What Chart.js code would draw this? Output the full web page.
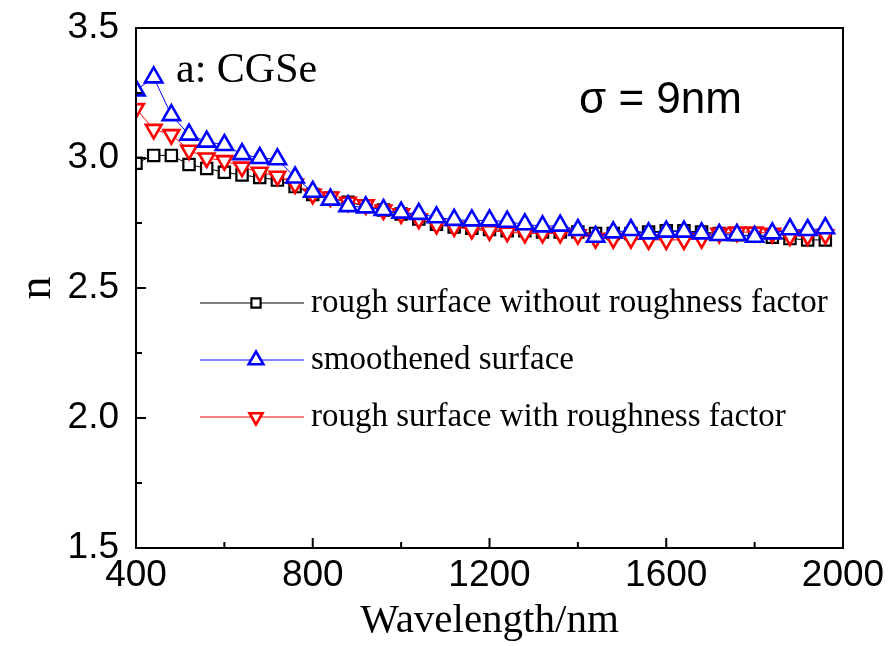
<!DOCTYPE html>
<html><head><meta charset="utf-8">
<script src="https://cdn.jsdelivr.net/npm/chart.js@4/dist/chart.umd.min.js"></script>
<style>html,body{margin:0;padding:0;background:#fff;}#wrap{position:relative;width:889px;height:646px;}</style>
</head><body><div id="wrap"><canvas id="c" width="889" height="646"></canvas></div>
<script>
// ---- data ----
const wavelengths = [400,440,480,520,560,600,640,680,720,760,800,840,880,920,960,1000,1040,1080,1120,1160,1200,1240,1280,1320,1360,1400,1440,1480,1520,1560,1600,1640,1680,1720,1760,1800,1840,1880,1920,1960];
const roughNoFactor = [2.98,3.01,3.01,2.975,2.96,2.945,2.935,2.925,2.915,2.89,2.86,2.845,2.83,2.815,2.80,2.785,2.765,2.745,2.735,2.73,2.725,2.72,2.72,2.715,2.715,2.715,2.71,2.71,2.71,2.715,2.72,2.72,2.715,2.71,2.705,2.70,2.695,2.69,2.685,2.685];
const smoothened = [3.26,3.31,3.165,3.09,3.063,3.05,3.015,3.0,2.995,2.925,2.87,2.84,2.815,2.81,2.80,2.79,2.785,2.772,2.762,2.76,2.76,2.755,2.745,2.737,2.74,2.723,2.697,2.714,2.723,2.71,2.717,2.717,2.71,2.704,2.704,2.697,2.71,2.726,2.723,2.73];
const roughWithFactor = [3.19,3.11,3.09,3.03,3.0,2.99,2.965,2.945,2.93,2.90,2.86,2.85,2.83,2.82,2.80,2.785,2.765,2.745,2.735,2.725,2.72,2.715,2.71,2.71,2.71,2.705,2.69,2.69,2.69,2.685,2.685,2.685,2.69,2.71,2.715,2.715,2.71,2.70,2.70,2.705];
const seriesNames = ['rough surface without roughness factor','smoothened surface','rough surface with roughness factor'];
const xTicks = [400,800,1200,1600,2000];
const xMinorTicks = [600,1000,1400,1800];
const yTicks = [1.5,2.0,2.5,3.0,3.5];
const yMinorTicks = [1.75,2.25,2.75,3.25];
const panelLabel = 'a: CGSe';
const sigmaLabel = 'σ = 9nm';

const toXY = arr => arr.map((v,i)=>({x:wavelengths[i], y:v}));
const styles = [
  {color:'#000000', pointStyle:'rect', rotation:0, radius:8, bw:2.2},
  {color:'#0000ff', pointStyle:'triangle', rotation:0, radius:10, bw:2.6},
  {color:'#ff0000', pointStyle:'triangle', rotation:180, radius:9, bw:2.6}
];
const seriesData = [roughNoFactor, smoothened, roughWithFactor];
const orders = [3,1,2];

const datasets = seriesData.map((d,i)=>({
  label: seriesNames[i],
  data: toXY(d),
  borderColor: styles[i].color,
  backgroundColor: '#ffffff',
  borderWidth: 1,
  pointStyle: styles[i].pointStyle,
  rotation: styles[i].rotation,
  pointRadius: styles[i].radius,
  pointBorderWidth: styles[i].bw,
  pointBorderColor: styles[i].color,
  pointBackgroundColor: '#ffffff',
  tension: 0,
  order: orders[i]
}));

const frame = {
  id:'frame',
  afterDraw(chart){
    const ctx = chart.ctx, a = chart.chartArea;
    const xs = chart.scales.x, ys = chart.scales.y;
    ctx.save();
    ctx.strokeStyle = '#000'; ctx.lineWidth = 2;
    ctx.strokeRect(a.left, a.top, a.right-a.left, a.bottom-a.top);
    ctx.beginPath();
    xTicks.forEach(v=>{const p=xs.getPixelForValue(v); ctx.moveTo(p,a.bottom); ctx.lineTo(p,a.bottom-10);});
    xMinorTicks.forEach(v=>{const p=xs.getPixelForValue(v); ctx.moveTo(p,a.bottom); ctx.lineTo(p,a.bottom-6);});
    yTicks.forEach(v=>{const p=ys.getPixelForValue(v); ctx.moveTo(a.left,p); ctx.lineTo(a.left+10,p);});
    yMinorTicks.forEach(v=>{const p=ys.getPixelForValue(v); ctx.moveTo(a.left,p); ctx.lineTo(a.left+6,p);});
    ctx.stroke();
    // legend
    const rowsY = [303,360,417];
    ctx.font = '33px "Liberation Serif", "Times New Roman", serif';
    ctx.textBaseline = 'middle';
    styles.forEach((s,i)=>{
      const y = rowsY[i];
      ctx.strokeStyle = s.color; ctx.lineWidth = 1;
      ctx.beginPath(); ctx.moveTo(200,y); ctx.lineTo(304,y); ctx.stroke();
      ctx.strokeStyle = s.color; ctx.fillStyle = '#fff'; ctx.lineWidth = s.bw;
      Chart.helpers.drawPoint(ctx, {pointStyle:s.pointStyle, rotation:s.rotation, radius:s.radius-1.5, borderWidth:s.bw}, 256, y);
      ctx.fillStyle = '#000';
      ctx.fillText(seriesNames[i], 311, y);
    });
    ctx.fillStyle = '#000';
    ctx.textBaseline = 'alphabetic';
    ctx.font = '42px "Liberation Serif", "Times New Roman", serif';
    ctx.fillText(panelLabel, 176, 82);
    ctx.font = '44px "Liberation Sans", Arial, sans-serif';
    ctx.fillText(sigmaLabel, 579, 113);
    ctx.restore();
  }
};

const chart = new Chart(document.getElementById('c'), {
  type:'line',
  data:{datasets},
  options:{
    responsive:false, animation:false, devicePixelRatio:1,
    layout:{padding:{left:0,top:28,right:46,bottom:0}},
    plugins:{legend:{display:false}, tooltip:{enabled:false}},
    scales:{
      x:{type:'linear', min:400, max:2000,
        grid:{display:false, drawTicks:false}, border:{display:false},
        afterBuildTicks(s){ s.ticks = xTicks.map(v=>({value:v})); },
        afterFit(s){ s.height = 98; s.paddingLeft = 0; s.paddingRight = 0; },
        ticks:{color:'#000', padding:6, font:{family:'"Liberation Sans", Arial, sans-serif', size:37}, maxRotation:0, autoSkip:false, callback:v=>String(v)},
        title:{display:true, text:'Wavelength/nm', color:'#000', font:{family:'"Liberation Serif", "Times New Roman", serif', size:41}, padding:{top:0,bottom:0}}
      },
      y:{type:'linear', min:1.5, max:3.5,
        grid:{display:false, drawTicks:false}, border:{display:false},
        afterBuildTicks(s){ s.ticks = yTicks.map(v=>({value:v})); },
        afterFit(s){ s.width = 136; s.paddingTop = 0; s.paddingBottom = 0; },
        ticks:{color:'#000', padding:17, font:{family:'"Liberation Sans", Arial, sans-serif', size:37}, callback:v=>Number(v).toFixed(1)},
        title:{display:true, text:'n', color:'#000', font:{family:'"Liberation Serif", "Times New Roman", serif', size:46}, padding:{top:10,bottom:0}}
      }
    }
  },
  plugins:[frame]
});
</script></body></html>
